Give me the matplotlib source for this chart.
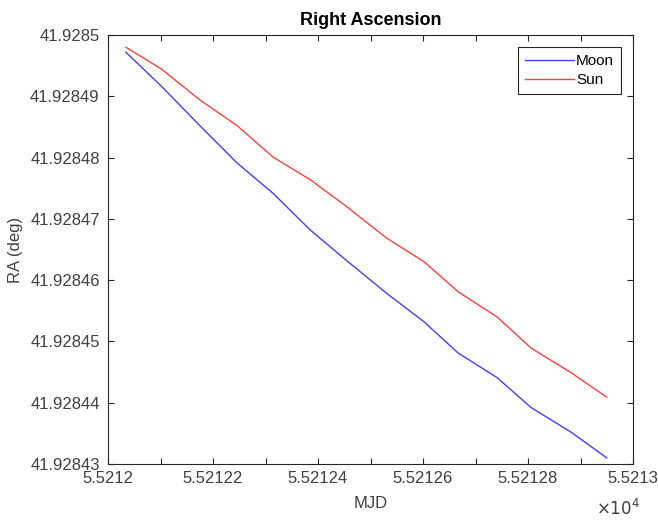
import matplotlib
matplotlib.use('Agg')
import matplotlib.pyplot as plt
import numpy as np

plt.rcParams['font.family'] = ['Liberation Sans', 'DejaVu Sans']

# MJD sample times (days)
mjd = [55212.034, 55212.101, 55212.175, 55212.246, 55212.314, 55212.385, 55212.453,
       55212.530, 55212.602, 55212.667, 55212.741, 55212.806, 55212.882, 55212.950]

ra_moon = [41.9284972, 41.9284917, 41.9284852, 41.9284791, 41.9284742, 41.9284682, 41.9284633,
           41.9284579, 41.9284532, 41.9284481, 41.9284441, 41.9284392, 41.9284352, 41.9284310]
ra_sun = [41.9284980, 41.9284945, 41.9284894, 41.9284852, 41.9284801, 41.9284764, 41.9284721,
          41.9284669, 41.9284630, 41.9284581, 41.9284540, 41.9284489, 41.9284449, 41.9284409]

xticks = [55212.0 + 0.1 * k for k in range(11)]
yticks = [41.92843 + 1e-5 * k for k in range(8)]

txt = '#404040'
edge = '#262626'
fig = plt.figure(figsize=(6.58, 5.21), dpi=100)
ax = fig.add_axes([108 / 658, 1 - 464 / 521, 525 / 658, 429 / 521])

ax.plot(mjd, ra_moon, color=(0, 0, 1), lw=1.0, alpha=0.75, label='Moon')
ax.plot(mjd, ra_sun, color=(1, 0, 0), lw=1.0, alpha=0.75, label='Sun')

ax.set_xlim(55212.0, 55213.0)
ax.set_ylim(41.92843, 41.92850)
ax.set_xticks(xticks)
ax.set_xticklabels(['%.6g' % (v / 1e4) if k % 2 == 0 else '' for k, v in enumerate(xticks)])
ax.set_yticks(yticks)
ax.set_yticklabels(['%.7g' % v for v in yticks])

ax.tick_params(direction='in', top=True, right=True, length=4, width=0.8,
               colors=edge, labelsize=12, labelcolor=txt)
ax.tick_params(axis='y', pad=6)
ax.tick_params(axis='x', pad=5)
for s in ax.spines.values():
    s.set_color(edge)
    s.set_linewidth(0.8)

ax.set_title('Right Ascension', fontsize=13, fontweight='bold', color='black', pad=7)
ax.set_xlabel('MJD', fontsize=12, color=txt, labelpad=7)
ax.set_ylabel('RA (deg)', fontsize=12, color=txt, labelpad=5)
fig.text(596 / 658, 1 - 515 / 521, r'$\times10^4$', fontsize=12, color=txt,
         math_fontfamily='dejavusans')

leg = ax.legend(loc='upper right', fontsize=11, fancybox=False, framealpha=1,
                edgecolor=edge, handlelength=3.2, handletextpad=0.15,
                borderpad=0.45, labelspacing=0.35, borderaxespad=0.8)
leg.get_frame().set_linewidth(0.8)

fig.savefig('out.png', dpi=100)
